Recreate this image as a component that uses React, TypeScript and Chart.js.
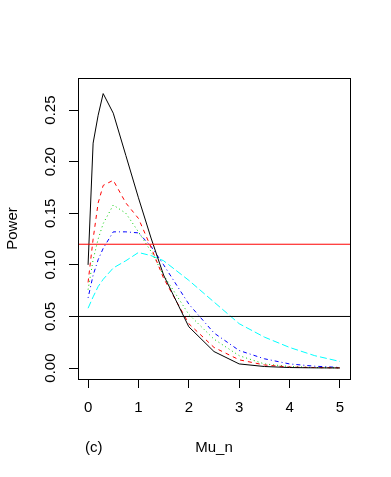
import React, { useEffect, useRef } from "react";
import { Chart, registerables } from "chart.js";

Chart.register(...registerables);

const mu = [0, 0.1, 0.2, 0.3, 0.5, 0.75, 1, 1.25, 1.5, 2, 2.5, 3, 3.5, 4, 4.5, 5];
const seriesBlack = [0.1, 0.218, 0.245, 0.266, 0.247, 0.206, 0.165, 0.126, 0.09, 0.04, 0.016, 0.004, 0.0015, 0.0005, 0.0002, 0.0001];
const seriesRed = [0.083, 0.125, 0.16, 0.177, 0.182, 0.16, 0.145, 0.117, 0.087, 0.043, 0.02, 0.008, 0.003, 0.001, 0.0005, 0.0002];
const seriesGreen = [0.076, 0.105, 0.125, 0.14, 0.158, 0.15, 0.132, 0.113, 0.09, 0.052, 0.028, 0.012, 0.004, 0.0015, 0.0005, 0.0002];
const seriesBlue = [0.068, 0.09, 0.105, 0.116, 0.132, 0.132, 0.131, 0.118, 0.1, 0.062, 0.034, 0.017, 0.009, 0.004, 0.0018, 0.0006];
const seriesCyan = [0.058, 0.069, 0.079, 0.086, 0.097, 0.104, 0.112, 0.109, 0.104, 0.085, 0.064, 0.043, 0.03, 0.02, 0.012, 0.0064];

const refLines = [0.12, 0.05];
const refColors = ["#FF0000", "#000000"];

const xTicks = [0, 1, 2, 3, 4, 5];
const yTicks = [0, 0.05, 0.1, 0.15, 0.2, 0.25];
const xMin = -0.2;
const xMax = 5.2;
const yMin = -0.0106;
const yMax = 0.2811;

const xTitle = "Mu_n";
const yTitle = "Power";
const panelLabel = "(c)";

const FONT = "'Liberation Sans', Arial, sans-serif";

export default function App() {
  const ref = useRef<HTMLCanvasElement | null>(null);

  useEffect(() => {
    if (!ref.current) return;
    const toPts = (arr: number[]) => mu.map((x, i) => ({ x, y: arr[i] }));
    const curve = (arr: number[], color: string, dash: number[]) => ({
      data: toPts(arr),
      borderColor: color,
      borderWidth: 1,
      borderDash: dash,
      pointRadius: 0,
      tension: 0,
      fill: false,
    });
    const boxPlugin = {
      id: "box",
      afterDatasetsDraw(chart: any) {
        const { ctx, chartArea: a } = chart;
        ctx.save();
        ctx.strokeStyle = "#000";
        ctx.lineWidth = 1;
        ctx.setLineDash([]);
        ctx.strokeRect(a.left + 0.5, a.top + 0.5, a.right - a.left, a.bottom - a.top);
        ctx.fillStyle = "#000";
        ctx.font = `15px ${FONT}`;
        ctx.textAlign = "left";
        ctx.textBaseline = "middle";
        ctx.fillText(panelLabel, 85, 448);
        ctx.restore();
      },
    };

    const chart = new Chart(ref.current, {
      type: "line",
      data: {
        datasets: [
          ...refLines.map((v, i) => ({
            data: [
              { x: xMin, y: v },
              { x: xMax, y: v },
            ],
            borderColor: refColors[i],
            borderWidth: 1,
            pointRadius: 0,
            fill: false,
          })),
          curve(seriesBlack, "#000000", []),
          curve(seriesRed, "#FF0000", [4, 4]),
          curve(seriesGreen, "#00CD00", [1, 3]),
          curve(seriesBlue, "#0000FF", [1, 3, 4, 3]),
          curve(seriesCyan, "#00FFFF", [7, 3]),
        ] as any,
      },
      options: {
        animation: false,
        responsive: false,
        devicePixelRatio: 1,
        parsing: false as any,
        layout: { padding: { top: 78, right: 41, left: 0, bottom: 0 } },
        plugins: { legend: { display: false }, tooltip: { enabled: false } },
        scales: {
          x: {
            type: "linear",
            min: xMin,
            max: xMax,
            afterBuildTicks: (s: any) => {
              s.ticks = xTicks.map((v) => ({ value: v }));
            },
            afterFit: (s: any) => {
              s.height = 98;
            },
            border: { display: false },
            grid: { display: true, drawOnChartArea: false, drawTicks: true, tickLength: 9, color: "#000", lineWidth: 1 },
            ticks: {
              color: "#000",
              padding: 11,
              maxRotation: 0,
              minRotation: 0,
              font: { family: FONT, size: 15 },
              callback: (v: any) => String(v),
            },
            title: {
              display: true,
              text: xTitle,
              color: "#000",
              font: { family: FONT, size: 15 },
              padding: { top: 0, bottom: 20 },
            },
          },
          y: {
            type: "linear",
            min: yMin,
            max: yMax,
            afterBuildTicks: (s: any) => {
              s.ticks = yTicks.map((v) => ({ value: v }));
            },
            afterFit: (s: any) => {
              s.width = 78;
            },
            border: { display: false },
            grid: { display: true, drawOnChartArea: false, drawTicks: true, tickLength: 9, color: "#000", lineWidth: 1 },
            ticks: {
              color: "#000",
              padding: 4,
              minRotation: 90,
              maxRotation: 90,
              crossAlign: "center",
              font: { family: FONT, size: 15 },
              callback: (v: any) => Number(v).toFixed(2),
            },
            title: {
              display: true,
              text: yTitle,
              color: "#000",
              font: { family: FONT, size: 15 },
              padding: { top: 4, bottom: 0 },
            },
          },
        },
      },
      plugins: [boxPlugin],
    } as any);
    return () => chart.destroy();
  }, []);

  return (
    <div style={{ position: "fixed", left: 0, top: 0, width: 391, height: 477, background: "#fff" }}>
      <canvas ref={ref} width={391} height={477} style={{ width: 391, height: 477, display: "block" }} />
    </div>
  );
}
